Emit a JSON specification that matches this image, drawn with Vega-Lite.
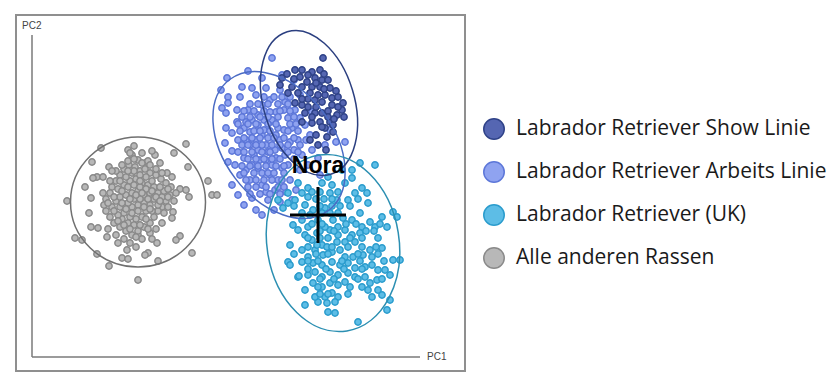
{
  "$schema": "https://vega.github.io/schema/vega-lite/v6.json",
  "width": 449,
  "height": 356,
  "padding": {"left": 16, "top": 15, "right": 367, "bottom": 16},
  "autosize": {"type": "none"},
  "background": "white",
  "config": {"view": {"stroke": "#8f8f8f", "strokeWidth": 2}},
  "layer": [
    {
      "data": {"values": [
        {"group":"O","PC1":69,"PC2":209},{"group":"O","PC1":102,"PC2":211},{"group":"O","PC1":154,"PC2":213},{"group":"O","PC1":60,"PC2":195},{"group":"O","PC1":77,"PC2":190},{"group":"O","PC1":142,"PC2":204},{"group":"O","PC1":123,"PC2":202},{"group":"O","PC1":156,"PC2":190},{"group":"O","PC1":176,"PC2":176},{"group":"O","PC1":180,"PC2":162},{"group":"O","PC1":185,"PC2":162},{"group":"O","PC1":35,"PC2":156},{"group":"O","PC1":53,"PC2":170},{"group":"O","PC1":59,"PC2":159},{"group":"O","PC1":57,"PC2":144},{"group":"O","PC1":59,"PC2":130},{"group":"O","PC1":66,"PC2":129},{"group":"O","PC1":43,"PC2":119},{"group":"O","PC1":50,"PC2":117},{"group":"O","PC1":65,"PC2":103},{"group":"O","PC1":77,"PC2":91},{"group":"O","PC1":106,"PC2":77},{"group":"O","PC1":126,"PC2":96},{"group":"O","PC1":160,"PC2":104},{"group":"O","PC1":148,"PC2":121},{"group":"O","PC1":144,"PC2":117},{"group":"O","PC1":116,"PC2":104},{"group":"O","PC1":113,"PC2":102},{"group":"O","PC1":90,"PC2":99},{"group":"O","PC1":96,"PC2":98},{"group":"O","PC1":148,"PC2":168},{"group":"O","PC1":154,"PC2":167},{"group":"O","PC1":157,"PC2":160},{"group":"O","PC1":135,"PC2":184},{"group":"O","PC1":128,"PC2":194},{"group":"O","PC1":141,"PC2":145},{"group":"O","PC1":140,"PC2":139},{"group":"O","PC1":125,"PC2":114},{"group":"O","PC1":106,"PC2":122},{"group":"O","PC1":86,"PC2":114},{"group":"O","PC1":95,"PC2":107},{"group":"O","PC1":75,"PC2":120},{"group":"O","PC1":65,"PC2":180},{"group":"O","PC1":61,"PC2":179},{"group":"O","PC1":71,"PC2":180},{"group":"O","PC1":71,"PC2":164},{"group":"O","PC1":96,"PC2":207},{"group":"O","PC1":100,"PC2":202},{"group":"O","PC1":110,"PC2":204},{"group":"O","PC1":106,"PC2":197},{"group":"O","PC1":115,"PC2":195},
        {"group":"O","PC1":80,"PC2":170},{"group":"O","PC1":84,"PC2":176},{"group":"O","PC1":88,"PC2":182},{"group":"O","PC1":92,"PC2":188},{"group":"O","PC1":97,"PC2":192},{"group":"O","PC1":103,"PC2":190},{"group":"O","PC1":108,"PC2":186},{"group":"O","PC1":113,"PC2":188},{"group":"O","PC1":118,"PC2":184},{"group":"O","PC1":124,"PC2":182},{"group":"O","PC1":129,"PC2":178},{"group":"O","PC1":134,"PC2":174},{"group":"O","PC1":139,"PC2":170},{"group":"O","PC1":138,"PC2":162},{"group":"O","PC1":134,"PC2":156},{"group":"O","PC1":130,"PC2":150},{"group":"O","PC1":126,"PC2":146},{"group":"O","PC1":122,"PC2":140},{"group":"O","PC1":118,"PC2":134},{"group":"O","PC1":112,"PC2":130},{"group":"O","PC1":106,"PC2":126},{"group":"O","PC1":100,"PC2":122},{"group":"O","PC1":94,"PC2":126},{"group":"O","PC1":88,"PC2":130},{"group":"O","PC1":82,"PC2":134},{"group":"O","PC1":78,"PC2":140},{"group":"O","PC1":74,"PC2":146},{"group":"O","PC1":72,"PC2":152},{"group":"O","PC1":74,"PC2":158},{"group":"O","PC1":78,"PC2":164},
        {"group":"O","PC1":86,"PC2":168},{"group":"O","PC1":92,"PC2":172},{"group":"O","PC1":98,"PC2":176},{"group":"O","PC1":104,"PC2":178},{"group":"O","PC1":110,"PC2":174},{"group":"O","PC1":116,"PC2":172},{"group":"O","PC1":122,"PC2":170},{"group":"O","PC1":126,"PC2":164},{"group":"O","PC1":122,"PC2":158},{"group":"O","PC1":118,"PC2":152},{"group":"O","PC1":114,"PC2":146},{"group":"O","PC1":110,"PC2":140},{"group":"O","PC1":104,"PC2":138},{"group":"O","PC1":98,"PC2":140},{"group":"O","PC1":92,"PC2":144},{"group":"O","PC1":88,"PC2":150},{"group":"O","PC1":84,"PC2":156},{"group":"O","PC1":88,"PC2":160},{"group":"O","PC1":94,"PC2":162},{"group":"O","PC1":100,"PC2":164},{"group":"O","PC1":106,"PC2":166},{"group":"O","PC1":112,"PC2":162},{"group":"O","PC1":118,"PC2":164},{"group":"O","PC1":112,"PC2":154},{"group":"O","PC1":106,"PC2":152},{"group":"O","PC1":100,"PC2":150},{"group":"O","PC1":96,"PC2":154},{"group":"O","PC1":102,"PC2":158},{"group":"O","PC1":108,"PC2":158},{"group":"O","PC1":116,"PC2":158},
        {"group":"O","PC1":90,"PC2":138},{"group":"O","PC1":96,"PC2":134},{"group":"O","PC1":102,"PC2":132},{"group":"O","PC1":108,"PC2":132},{"group":"O","PC1":114,"PC2":138},{"group":"O","PC1":120,"PC2":146},{"group":"O","PC1":126,"PC2":152},{"group":"O","PC1":130,"PC2":160},{"group":"O","PC1":132,"PC2":166},{"group":"O","PC1":128,"PC2":170},{"group":"O","PC1":120,"PC2":176},{"group":"O","PC1":114,"PC2":180},{"group":"O","PC1":108,"PC2":182},{"group":"O","PC1":100,"PC2":184},{"group":"O","PC1":94,"PC2":180},{"group":"O","PC1":88,"PC2":176},{"group":"O","PC1":84,"PC2":186},{"group":"O","PC1":96,"PC2":196},{"group":"O","PC1":102,"PC2":198},{"group":"O","PC1":110,"PC2":194},{"group":"O","PC1":116,"PC2":196},{"group":"O","PC1":80,"PC2":150},{"group":"O","PC1":76,"PC2":128},{"group":"O","PC1":84,"PC2":122},{"group":"O","PC1":92,"PC2":118},{"group":"O","PC1":98,"PC2":114},{"group":"O","PC1":110,"PC2":118},{"group":"O","PC1":118,"PC2":124},{"group":"O","PC1":124,"PC2":128},{"group":"O","PC1":130,"PC2":134},{"group":"O","PC1":136,"PC2":150},{"group":"O","PC1":142,"PC2":156},{"group":"O","PC1":144,"PC2":164},{"group":"O","PC1":140,"PC2":180},{"group":"O","PC1":86,"PC2":142},{"group":"O","PC1":80,"PC2":186},
        {"group":"O","PC1":82,"PC2":160},{"group":"O","PC1":90,"PC2":166},{"group":"O","PC1":96,"PC2":170},{"group":"O","PC1":102,"PC2":172},{"group":"O","PC1":108,"PC2":170},{"group":"O","PC1":114,"PC2":168},{"group":"O","PC1":120,"PC2":166},{"group":"O","PC1":90,"PC2":154},{"group":"O","PC1":98,"PC2":158},{"group":"O","PC1":104,"PC2":162},{"group":"O","PC1":110,"PC2":164},{"group":"O","PC1":94,"PC2":148},{"group":"O","PC1":100,"PC2":144},{"group":"O","PC1":106,"PC2":146},{"group":"O","PC1":112,"PC2":150},{"group":"O","PC1":118,"PC2":148},{"group":"O","PC1":124,"PC2":160},{"group":"O","PC1":128,"PC2":156},{"group":"O","PC1":108,"PC2":176},{"group":"O","PC1":102,"PC2":186},{"group":"O","PC1":96,"PC2":186},{"group":"O","PC1":90,"PC2":192},{"group":"O","PC1":118,"PC2":192},{"group":"O","PC1":124,"PC2":188},{"group":"O","PC1":130,"PC2":184},{"group":"O","PC1":86,"PC2":136},{"group":"O","PC1":92,"PC2":132},{"group":"O","PC1":98,"PC2":128},{"group":"O","PC1":104,"PC2":120},{"group":"O","PC1":116,"PC2":128},{"group":"O","PC1":120,"PC2":118},{"group":"O","PC1":132,"PC2":144},{"group":"O","PC1":136,"PC2":160},{"group":"O","PC1":136,"PC2":168},{"group":"O","PC1":78,"PC2":176},{"group":"O","PC1":82,"PC2":146},{"group":"O","PC1":76,"PC2":154},{"group":"O","PC1":98,"PC2":204},{"group":"O","PC1":120,"PC2":206},{"group":"O","PC1":104,"PC2":110},
        {"group":"A","PC1":240,"PC2":299},{"group":"A","PC1":216,"PC2":286},{"group":"A","PC1":195,"PC2":279},{"group":"A","PC1":189,"PC2":267},{"group":"A","PC1":196,"PC2":260},{"group":"A","PC1":196,"PC2":254},{"group":"A","PC1":194,"PC2":244},{"group":"A","PC1":210,"PC2":270},{"group":"A","PC1":220,"PC2":269},{"group":"A","PC1":208,"PC2":260},{"group":"A","PC1":230,"PC2":252},{"group":"A","PC1":224,"PC2":262},{"group":"A","PC1":205,"PC2":247},{"group":"A","PC1":205,"PC2":235},{"group":"A","PC1":214,"PC2":235},{"group":"A","PC1":200,"PC2":224},{"group":"A","PC1":193,"PC2":214},{"group":"A","PC1":200,"PC2":206},{"group":"A","PC1":206,"PC2":217},{"group":"A","PC1":218,"PC2":225},{"group":"A","PC1":226,"PC2":242},{"group":"A","PC1":238,"PC2":257},{"group":"A","PC1":234,"PC2":269},{"group":"A","PC1":248,"PC2":267},{"group":"A","PC1":253,"PC2":255},{"group":"A","PC1":244,"PC2":245},{"group":"A","PC1":238,"PC2":235},{"group":"A","PC1":230,"PC2":222},{"group":"A","PC1":218,"PC2":212},{"group":"A","PC1":212,"PC2":199},{"group":"A","PC1":203,"PC2":192},{"group":"A","PC1":196,"PC2":195},{"group":"A","PC1":208,"PC2":182},{"group":"A","PC1":200,"PC2":172},{"group":"A","PC1":206,"PC2":162},{"group":"A","PC1":212,"PC2":152},{"group":"A","PC1":220,"PC2":159},{"group":"A","PC1":218,"PC2":177},{"group":"A","PC1":226,"PC2":189},{"group":"A","PC1":230,"PC2":172},{"group":"A","PC1":224,"PC2":147},{"group":"A","PC1":236,"PC2":157},{"group":"A","PC1":243,"PC2":167},{"group":"A","PC1":238,"PC2":182},{"group":"A","PC1":234,"PC2":197},{"group":"A","PC1":243,"PC2":207},{"group":"A","PC1":248,"PC2":217},{"group":"A","PC1":246,"PC2":229},{"group":"A","PC1":256,"PC2":239},{"group":"A","PC1":263,"PC2":247},{"group":"A","PC1":260,"PC2":229},{"group":"A","PC1":258,"PC2":215},{"group":"A","PC1":253,"PC2":202},{"group":"A","PC1":250,"PC2":189},{"group":"A","PC1":258,"PC2":177},{"group":"A","PC1":268,"PC2":187},{"group":"A","PC1":270,"PC2":202},{"group":"A","PC1":266,"PC2":217},{"group":"A","PC1":273,"PC2":232},{"group":"A","PC1":268,"PC2":262},{"group":"A","PC1":280,"PC2":245},{"group":"A","PC1":278,"PC2":222},{"group":"A","PC1":280,"PC2":207},{"group":"A","PC1":286,"PC2":199},{"group":"A","PC1":293,"PC2":212},{"group":"A","PC1":298,"PC2":227},{"group":"A","PC1":304,"PC2":215},{"group":"A","PC1":313,"PC2":215},{"group":"A","PC1":288,"PC2":182},{"group":"A","PC1":248,"PC2":155},{"group":"A","PC1":254,"PC2":165},{"group":"A","PC1":232,"PC2":237},{"group":"A","PC1":222,"PC2":202},{"group":"A","PC1":214,"PC2":187},{"group":"A","PC1":224,"PC2":217},{"group":"A","PC1":234,"PC2":212},{"group":"A","PC1":240,"PC2":192},{"group":"A","PC1":226,"PC2":232},{"group":"A","PC1":216,"PC2":247},{"group":"A","PC1":230,"PC2":279},{"group":"A","PC1":250,"PC2":282},{"group":"A","PC1":262,"PC2":277},{"group":"A","PC1":206,"PC2":205},{"group":"A","PC1":194,"PC2":229},{"group":"A","PC1":190,"PC2":249},{"group":"A","PC1":264,"PC2":167},{"group":"A","PC1":260,"PC2":157},{"group":"A","PC1":242,"PC2":147},{"group":"A","PC1":230,"PC2":142},
        {"group":"A","PC1":226,"PC2":207},{"group":"A","PC1":232,"PC2":227},{"group":"A","PC1":238,"PC2":245},{"group":"A","PC1":244,"PC2":222},{"group":"A","PC1":252,"PC2":227},{"group":"A","PC1":250,"PC2":209},{"group":"A","PC1":244,"PC2":199},{"group":"A","PC1":236,"PC2":205},{"group":"A","PC1":228,"PC2":197},{"group":"A","PC1":220,"PC2":192},{"group":"A","PC1":214,"PC2":217},{"group":"A","PC1":212,"PC2":229},{"group":"A","PC1":220,"PC2":237},{"group":"A","PC1":256,"PC2":192},{"group":"A","PC1":262,"PC2":207},{"group":"A","PC1":268,"PC2":239},{"group":"A","PC1":274,"PC2":217},{"group":"A","PC1":276,"PC2":192},{"group":"A","PC1":246,"PC2":177},{"group":"A","PC1":234,"PC2":165},{"group":"A","PC1":240,"PC2":237},{"group":"A","PC1":252,"PC2":247},{"group":"A","PC1":230,"PC2":212},
        {"group":"A","PC1":232,"PC2":260},{"group":"A","PC1":242,"PC2":260},{"group":"A","PC1":250,"PC2":260},{"group":"A","PC1":258,"PC2":260},{"group":"A","PC1":218,"PC2":253},{"group":"A","PC1":226,"PC2":253},{"group":"A","PC1":236,"PC2":253},{"group":"A","PC1":246,"PC2":253},{"group":"A","PC1":256,"PC2":253},{"group":"A","PC1":212,"PC2":246},{"group":"A","PC1":222,"PC2":246},{"group":"A","PC1":232,"PC2":246},{"group":"A","PC1":248,"PC2":246},{"group":"A","PC1":258,"PC2":246},{"group":"A","PC1":210,"PC2":240},{"group":"A","PC1":218,"PC2":240},{"group":"A","PC1":228,"PC2":240},{"group":"A","PC1":236,"PC2":240},{"group":"A","PC1":246,"PC2":240},{"group":"A","PC1":262,"PC2":240},{"group":"A","PC1":206,"PC2":233},{"group":"A","PC1":216,"PC2":233},{"group":"A","PC1":224,"PC2":233},{"group":"A","PC1":236,"PC2":233},{"group":"A","PC1":244,"PC2":233},{"group":"A","PC1":258,"PC2":233},{"group":"A","PC1":264,"PC2":233},{"group":"A","PC1":208,"PC2":226},{"group":"A","PC1":222,"PC2":226},{"group":"A","PC1":228,"PC2":226},{"group":"A","PC1":238,"PC2":226},{"group":"A","PC1":256,"PC2":226},{"group":"A","PC1":266,"PC2":226},{"group":"A","PC1":212,"PC2":219},{"group":"A","PC1":220,"PC2":219},{"group":"A","PC1":228,"PC2":219},{"group":"A","PC1":236,"PC2":219},{"group":"A","PC1":242,"PC2":219},{"group":"A","PC1":252,"PC2":219},{"group":"A","PC1":262,"PC2":219},{"group":"A","PC1":210,"PC2":212},{"group":"A","PC1":216,"PC2":212},{"group":"A","PC1":224,"PC2":212},{"group":"A","PC1":240,"PC2":212},{"group":"A","PC1":248,"PC2":212},{"group":"A","PC1":256,"PC2":212},{"group":"A","PC1":268,"PC2":212},{"group":"A","PC1":212,"PC2":205},{"group":"A","PC1":220,"PC2":205},{"group":"A","PC1":230,"PC2":205},{"group":"A","PC1":238,"PC2":205},{"group":"A","PC1":256,"PC2":205},{"group":"A","PC1":266,"PC2":205},{"group":"A","PC1":216,"PC2":198},{"group":"A","PC1":224,"PC2":198},{"group":"A","PC1":232,"PC2":198},{"group":"A","PC1":240,"PC2":198},{"group":"A","PC1":248,"PC2":198},{"group":"A","PC1":262,"PC2":198},{"group":"A","PC1":210,"PC2":191},{"group":"A","PC1":218,"PC2":191},{"group":"A","PC1":226,"PC2":191},{"group":"A","PC1":234,"PC2":191},{"group":"A","PC1":244,"PC2":191},{"group":"A","PC1":252,"PC2":191},{"group":"A","PC1":212,"PC2":184},{"group":"A","PC1":222,"PC2":184},{"group":"A","PC1":230,"PC2":184},{"group":"A","PC1":236,"PC2":184},{"group":"A","PC1":242,"PC2":184},{"group":"A","PC1":252,"PC2":184},{"group":"A","PC1":214,"PC2":177},{"group":"A","PC1":224,"PC2":177},{"group":"A","PC1":232,"PC2":177},{"group":"A","PC1":240,"PC2":177},{"group":"A","PC1":250,"PC2":177},{"group":"A","PC1":216,"PC2":170},{"group":"A","PC1":224,"PC2":170},{"group":"A","PC1":234,"PC2":170},{"group":"A","PC1":246,"PC2":170},{"group":"A","PC1":252,"PC2":170},{"group":"A","PC1":218,"PC2":163},{"group":"A","PC1":228,"PC2":163},{"group":"A","PC1":238,"PC2":163},{"group":"A","PC1":248,"PC2":163},
        {"group":"S","PC1":291,"PC2":299},{"group":"S","PC1":263,"PC2":287},{"group":"S","PC1":270,"PC2":287},{"group":"S","PC1":280,"PC2":285},{"group":"S","PC1":288,"PC2":287},{"group":"S","PC1":255,"PC2":283},{"group":"S","PC1":283,"PC2":279},{"group":"S","PC1":290,"PC2":277},{"group":"S","PC1":275,"PC2":275},{"group":"S","PC1":296,"PC2":277},{"group":"S","PC1":270,"PC2":270},{"group":"S","PC1":280,"PC2":270},{"group":"S","PC1":288,"PC2":270},{"group":"S","PC1":298,"PC2":269},{"group":"S","PC1":260,"PC2":270},{"group":"S","PC1":248,"PC2":272},{"group":"S","PC1":256,"PC2":264},{"group":"S","PC1":266,"PC2":264},{"group":"S","PC1":293,"PC2":262},{"group":"S","PC1":300,"PC2":259},{"group":"S","PC1":306,"PC2":260},{"group":"S","PC1":283,"PC2":257},{"group":"S","PC1":290,"PC2":255},{"group":"S","PC1":276,"PC2":250},{"group":"S","PC1":270,"PC2":252},{"group":"S","PC1":263,"PC2":254},{"group":"S","PC1":273,"PC2":244},{"group":"S","PC1":283,"PC2":244},{"group":"S","PC1":290,"PC2":244},{"group":"S","PC1":296,"PC2":246},{"group":"S","PC1":305,"PC2":242},{"group":"S","PC1":310,"PC2":247},{"group":"S","PC1":311,"PC2":254},{"group":"S","PC1":298,"PC2":235},{"group":"S","PC1":301,"PC2":232},{"group":"S","PC1":288,"PC2":235},{"group":"S","PC1":280,"PC2":234},{"group":"S","PC1":270,"PC2":235},{"group":"S","PC1":301,"PC2":225},{"group":"S","PC1":293,"PC2":229},{"group":"S","PC1":295,"PC2":220},{"group":"S","PC1":286,"PC2":212},{"group":"S","PC1":294,"PC2":207},{"group":"S","PC1":278,"PC2":217},{"group":"S","PC1":250,"PC2":279},
        {"group":"S","PC1":276,"PC2":282},{"group":"S","PC1":284,"PC2":274},{"group":"S","PC1":292,"PC2":283},{"group":"S","PC1":262,"PC2":278},{"group":"S","PC1":268,"PC2":280},{"group":"S","PC1":278,"PC2":264},{"group":"S","PC1":286,"PC2":262},{"group":"S","PC1":300,"PC2":252},{"group":"S","PC1":296,"PC2":240},{"group":"S","PC1":284,"PC2":250},{"group":"S","PC1":276,"PC2":258},{"group":"S","PC1":270,"PC2":258},{"group":"S","PC1":292,"PC2":268},{"group":"S","PC1":304,"PC2":266},{"group":"S","PC1":306,"PC2":250},{"group":"S","PC1":280,"PC2":240},{"group":"S","PC1":290,"PC2":230},{"group":"S","PC1":302,"PC2":238},{"group":"S","PC1":312,"PC2":240},{"group":"S","PC1":284,"PC2":222},
        {"group":"U","PC1":343,"PC2":192},{"group":"U","PC1":328,"PC2":194},{"group":"U","PC1":320,"PC2":179},{"group":"U","PC1":313,"PC2":174},{"group":"U","PC1":330,"PC2":169},{"group":"U","PC1":335,"PC2":164},{"group":"U","PC1":323,"PC2":164},{"group":"U","PC1":316,"PC2":157},{"group":"U","PC1":336,"PC2":154},{"group":"U","PC1":305,"PC2":157},{"group":"U","PC1":298,"PC2":164},{"group":"U","PC1":300,"PC2":172},{"group":"U","PC1":290,"PC2":174},{"group":"U","PC1":276,"PC2":169},{"group":"U","PC1":270,"PC2":164},{"group":"U","PC1":263,"PC2":157},{"group":"U","PC1":256,"PC2":154},{"group":"U","PC1":251,"PC2":149},{"group":"U","PC1":273,"PC2":152},{"group":"U","PC1":281,"PC2":147},{"group":"U","PC1":293,"PC2":149},{"group":"U","PC1":301,"PC2":137},{"group":"U","PC1":311,"PC2":139},{"group":"U","PC1":320,"PC2":137},{"group":"U","PC1":330,"PC2":130},{"group":"U","PC1":338,"PC2":135},{"group":"U","PC1":343,"PC2":130},{"group":"U","PC1":350,"PC2":140},{"group":"U","PC1":361,"PC2":145},{"group":"U","PC1":365,"PC2":140},{"group":"U","PC1":355,"PC2":130},{"group":"U","PC1":320,"PC2":122},{"group":"U","PC1":328,"PC2":124},{"group":"U","PC1":313,"PC2":127},{"group":"U","PC1":306,"PC2":122},{"group":"U","PC1":298,"PC2":127},{"group":"U","PC1":296,"PC2":119},{"group":"U","PC1":305,"PC2":115},{"group":"U","PC1":313,"PC2":115},{"group":"U","PC1":323,"PC2":115},{"group":"U","PC1":290,"PC2":112},{"group":"U","PC1":280,"PC2":117},{"group":"U","PC1":273,"PC2":122},{"group":"U","PC1":266,"PC2":127},{"group":"U","PC1":261,"PC2":132},{"group":"U","PC1":270,"PC2":137},{"group":"U","PC1":258,"PC2":112},{"group":"U","PC1":256,"PC2":95},{"group":"U","PC1":270,"PC2":107},{"group":"U","PC1":276,"PC2":100},{"group":"U","PC1":283,"PC2":107},{"group":"U","PC1":291,"PC2":102},{"group":"U","PC1":300,"PC2":105},{"group":"U","PC1":308,"PC2":107},{"group":"U","PC1":313,"PC2":100},{"group":"U","PC1":321,"PC2":100},{"group":"U","PC1":331,"PC2":102},{"group":"U","PC1":338,"PC2":107},{"group":"U","PC1":350,"PC2":109},{"group":"U","PC1":340,"PC2":100},{"group":"U","PC1":361,"PC2":97},{"group":"U","PC1":368,"PC2":97},{"group":"U","PC1":270,"PC2":95},{"group":"U","PC1":281,"PC2":94},{"group":"U","PC1":290,"PC2":92},{"group":"U","PC1":300,"PC2":95},{"group":"U","PC1":308,"PC2":92},{"group":"U","PC1":316,"PC2":94},{"group":"U","PC1":323,"PC2":89},{"group":"U","PC1":333,"PC2":90},{"group":"U","PC1":340,"PC2":92},{"group":"U","PC1":346,"PC2":87},{"group":"U","PC1":353,"PC2":87},{"group":"U","PC1":358,"PC2":82},{"group":"U","PC1":266,"PC2":80},{"group":"U","PC1":276,"PC2":82},{"group":"U","PC1":283,"PC2":85},{"group":"U","PC1":290,"PC2":80},{"group":"U","PC1":298,"PC2":85},{"group":"U","PC1":306,"PC2":82},{"group":"U","PC1":316,"PC2":84},{"group":"U","PC1":323,"PC2":80},{"group":"U","PC1":333,"PC2":80},{"group":"U","PC1":338,"PC2":74},{"group":"U","PC1":345,"PC2":77},{"group":"U","PC1":336,"PC2":67},{"group":"U","PC1":346,"PC2":67},{"group":"U","PC1":350,"PC2":62},{"group":"U","PC1":340,"PC2":60},{"group":"U","PC1":273,"PC2":67},{"group":"U","PC1":281,"PC2":74},{"group":"U","PC1":290,"PC2":70},{"group":"U","PC1":298,"PC2":74},{"group":"U","PC1":306,"PC2":72},{"group":"U","PC1":313,"PC2":75},{"group":"U","PC1":300,"PC2":64},{"group":"U","PC1":293,"PC2":60},{"group":"U","PC1":306,"PC2":60},{"group":"U","PC1":286,"PC2":55},{"group":"U","PC1":295,"PC2":54},{"group":"U","PC1":303,"PC2":55},{"group":"U","PC1":273,"PC2":52},{"group":"U","PC1":283,"PC2":60},{"group":"U","PC1":296,"PC2":45},{"group":"U","PC1":303,"PC2":44},{"group":"U","PC1":326,"PC2":35},{"group":"U","PC1":355,"PC2":47},{"group":"U","PC1":358,"PC2":57},{"group":"U","PC1":246,"PC2":157},{"group":"U","PC1":256,"PC2":164},{"group":"U","PC1":266,"PC2":174},{"group":"U","PC1":276,"PC2":160},{"group":"U","PC1":310,"PC2":187},{"group":"U","PC1":320,"PC2":187},{"group":"U","PC1":296,"PC2":180},{"group":"U","PC1":276,"PC2":130},{"group":"U","PC1":285,"PC2":124},{"group":"U","PC1":293,"PC2":130},{"group":"U","PC1":286,"PC2":137},{"group":"U","PC1":278,"PC2":142},{"group":"U","PC1":306,"PC2":130},{"group":"U","PC1":295,"PC2":110},{"group":"U","PC1":285,"PC2":112},{"group":"U","PC1":258,"PC2":92},{"group":"U","PC1":267,"PC2":81},
        {"group":"U","PC1":280,"PC2":165},{"group":"U","PC1":288,"PC2":165},{"group":"U","PC1":306,"PC2":165},{"group":"U","PC1":284,"PC2":158},{"group":"U","PC1":292,"PC2":158},{"group":"U","PC1":300,"PC2":158},{"group":"U","PC1":326,"PC2":158},{"group":"U","PC1":262,"PC2":151},{"group":"U","PC1":288,"PC2":151},{"group":"U","PC1":300,"PC2":151},{"group":"U","PC1":308,"PC2":151},{"group":"U","PC1":318,"PC2":151},{"group":"U","PC1":270,"PC2":144},{"group":"U","PC1":290,"PC2":144},{"group":"U","PC1":298,"PC2":144},{"group":"U","PC1":306,"PC2":144},{"group":"U","PC1":328,"PC2":144},{"group":"U","PC1":280,"PC2":133},{"group":"U","PC1":290,"PC2":133},{"group":"U","PC1":314,"PC2":133},{"group":"U","PC1":324,"PC2":133},{"group":"U","PC1":348,"PC2":133},{"group":"U","PC1":288,"PC2":126},{"group":"U","PC1":302,"PC2":126},{"group":"U","PC1":334,"PC2":126},{"group":"U","PC1":342,"PC2":126},{"group":"U","PC1":276,"PC2":119},{"group":"U","PC1":288,"PC2":119},{"group":"U","PC1":318,"PC2":119},{"group":"U","PC1":330,"PC2":119},{"group":"U","PC1":346,"PC2":119},{"group":"U","PC1":276,"PC2":110},{"group":"U","PC1":300,"PC2":110},{"group":"U","PC1":316,"PC2":110},{"group":"U","PC1":330,"PC2":110},{"group":"U","PC1":344,"PC2":110},{"group":"U","PC1":262,"PC2":103},{"group":"U","PC1":284,"PC2":103},{"group":"U","PC1":296,"PC2":103},{"group":"U","PC1":326,"PC2":103},{"group":"U","PC1":346,"PC2":103},{"group":"U","PC1":276,"PC2":96},{"group":"U","PC1":286,"PC2":96},{"group":"U","PC1":310,"PC2":96},{"group":"U","PC1":328,"PC2":96},{"group":"U","PC1":352,"PC2":96},{"group":"U","PC1":276,"PC2":88},{"group":"U","PC1":294,"PC2":88},{"group":"U","PC1":312,"PC2":88},{"group":"U","PC1":330,"PC2":88},{"group":"U","PC1":288,"PC2":78},{"group":"U","PC1":302,"PC2":78},{"group":"U","PC1":326,"PC2":78},{"group":"U","PC1":350,"PC2":78},{"group":"U","PC1":286,"PC2":70},{"group":"U","PC1":318,"PC2":70},{"group":"U","PC1":330,"PC2":70},{"group":"U","PC1":288,"PC2":63},{"group":"U","PC1":296,"PC2":63},{"group":"U","PC1":316,"PC2":63}
      ]},
      "mark": {"type": "point", "filled": true, "size": 40, "strokeWidth": 1.5, "opacity": 1},
      "encoding": {
        "x": {"field": "PC1", "type": "quantitative", "axis": null, "scale": {"domain": [-16, 433], "nice": false, "zero": false}},
        "y": {"field": "PC2", "type": "quantitative", "axis": null, "scale": {"domain": [-14, 342], "nice": false, "zero": false}},
        "fill": {"field": "group", "type": "nominal",
          "scale": {"domain": ["S", "A", "U", "O"], "range": ["#5566b2", "#8fa3f0", "#5dbde6", "#b8b8b8"]},
          "legend": {"orient": "none", "legendX": 467, "legendY": 103, "title": null, "padding": 0,
            "labelExpr": "{'S':'Labrador Retriever Show Linie','A':'Labrador Retriever Arbeits Linie','U':'Labrador Retriever (UK)','O':'Alle anderen Rassen'}[datum.label]",
            "labelFont": "Open Sans", "labelFontSize": 21, "labelColor": "#1a1a1a", "labelOffset": 11, "labelLimit": 400,
            "symbolType": "circle", "symbolSize": 420, "symbolStrokeWidth": 1.5, "rowPadding": 15}},
        "stroke": {"field": "group", "type": "nominal",
          "scale": {"domain": ["S", "A", "U", "O"], "range": ["#2f4288", "#5d77d9", "#2b9ccd", "#8a8a8a"]},
          "legend": {"orient": "none", "legendX": 467, "legendY": 103, "title": null, "padding": 0,
            "labelExpr": "{'S':'Labrador Retriever Show Linie','A':'Labrador Retriever Arbeits Linie','U':'Labrador Retriever (UK)','O':'Alle anderen Rassen'}[datum.label]",
            "labelFont": "Open Sans", "labelFontSize": 21, "labelColor": "#1a1a1a", "labelOffset": 11, "labelLimit": 400,
            "symbolType": "circle", "symbolSize": 420, "symbolStrokeWidth": 1.5, "rowPadding": 15}}
      }
    },
    {
      "data": {"values": [{"group": "O", "PC1": 106, "PC2": 155}]},
      "mark": {"type": "point", "filled": false, "opacity": 1, "stroke": "#707070", "strokeWidth": 1.5, "size": 18225,
        "shape": "M0,-0.963C0.5523,-0.963,1,-0.5319,1,0C1,0.5319,0.5523,0.963,0,0.963C-0.5523,0.963,-1,0.5319,-1,0C-1,-0.5319,-0.5523,-0.963,0,-0.963Z"},
      "encoding": {"x": {"field": "PC1", "type": "quantitative"}, "y": {"field": "PC2", "type": "quantitative"}}
    },
    {
      "data": {"values": [{"group": "A", "PC1": 247, "PC2": 212}]},
      "mark": {"type": "point", "filled": false, "opacity": 1, "stroke": "#4a6bc4", "strokeWidth": 1.5, "size": 26896, "angle": -37,
        "shape": "M0,-1C0.3706,-1,0.671,-0.5523,0.671,0C0.671,0.5523,0.3706,1,0,1C-0.3706,1,-0.671,0.5523,-0.671,0C-0.671,-0.5523,-0.3706,-1,0,-1Z"},
      "encoding": {"x": {"field": "PC1", "type": "quantitative"}, "y": {"field": "PC2", "type": "quantitative"}}
    },
    {
      "data": {"values": [{"group": "S", "PC1": 277, "PC2": 254}]},
      "mark": {"type": "point", "filled": false, "opacity": 1, "stroke": "#2b3f80", "strokeWidth": 1.5, "size": 22201, "angle": -17,
        "shape": "M0,-1C0.3364,-1,0.609,-0.5523,0.609,0C0.609,0.5523,0.3364,1,0,1C-0.3364,1,-0.609,0.5523,-0.609,0C-0.609,-0.5523,-0.3364,-1,0,-1Z"},
      "encoding": {"x": {"field": "PC1", "type": "quantitative"}, "y": {"field": "PC2", "type": "quantitative"}}
    },
    {
      "data": {"values": [{"group": "U", "PC1": 301, "PC2": 114}]},
      "mark": {"type": "point", "filled": false, "opacity": 1, "stroke": "#2b8fb2", "strokeWidth": 1.5, "size": 31684, "angle": -9,
        "shape": "M0,-1C0.4098,-1,0.742,-0.5523,0.742,0C0.742,0.5523,0.4098,1,0,1C-0.4098,1,-0.742,0.5523,-0.742,0C-0.742,-0.5523,-0.4098,-1,0,-1Z"},
      "encoding": {"x": {"field": "PC1", "type": "quantitative"}, "y": {"field": "PC2", "type": "quantitative"}}
    },
    {
      "data": {"values": [{"name": "Nora", "PC1": 286, "PC2": 142}]},
      "layer": [
        {
          "mark": {"type": "point", "filled": false, "opacity": 1, "stroke": "#000000", "strokeWidth": 3, "size": 3136, "shape": "M-1,0L1,0M0,-1L0,1"},
          "encoding": {"x": {"field": "PC1", "type": "quantitative"}, "y": {"field": "PC2", "type": "quantitative"}}
        },
        {
          "mark": {"type": "text", "font": "Liberation Sans", "fontSize": 23, "fontWeight": "bold", "fill": "#000000", "align": "center", "baseline": "alphabetic", "dy": -42},
          "encoding": {"x": {"field": "PC1", "type": "quantitative"}, "y": {"field": "PC2", "type": "quantitative"}, "text": {"field": "name"}}
        }
      ]
    },
    {
      "data": {"values": [{}]},
      "mark": {"type": "rule", "stroke": "#7a7a7a", "strokeWidth": 1.5},
      "encoding": {"x": {"datum": 0}, "y": {"datum": 0}, "y2": {"datum": 322}}
    },
    {
      "data": {"values": [{}]},
      "mark": {"type": "rule", "stroke": "#7a7a7a", "strokeWidth": 1.5},
      "encoding": {"x": {"datum": 0}, "x2": {"datum": 388}, "y": {"datum": 0}}
    },
    {
      "data": {"values": [{}]},
      "mark": {"type": "text", "font": "Liberation Sans", "fontSize": 10, "fill": "#444444", "align": "left", "baseline": "middle"},
      "encoding": {"x": {"datum": 395}, "y": {"datum": 0}, "text": {"value": "PC1"}}
    },
    {
      "data": {"values": [{}]},
      "mark": {"type": "text", "font": "Liberation Sans", "fontSize": 10, "fill": "#444444", "align": "left", "baseline": "middle"},
      "encoding": {"x": {"datum": -10}, "y": {"datum": 331}, "text": {"value": "PC2"}}
    }
  ]
}
